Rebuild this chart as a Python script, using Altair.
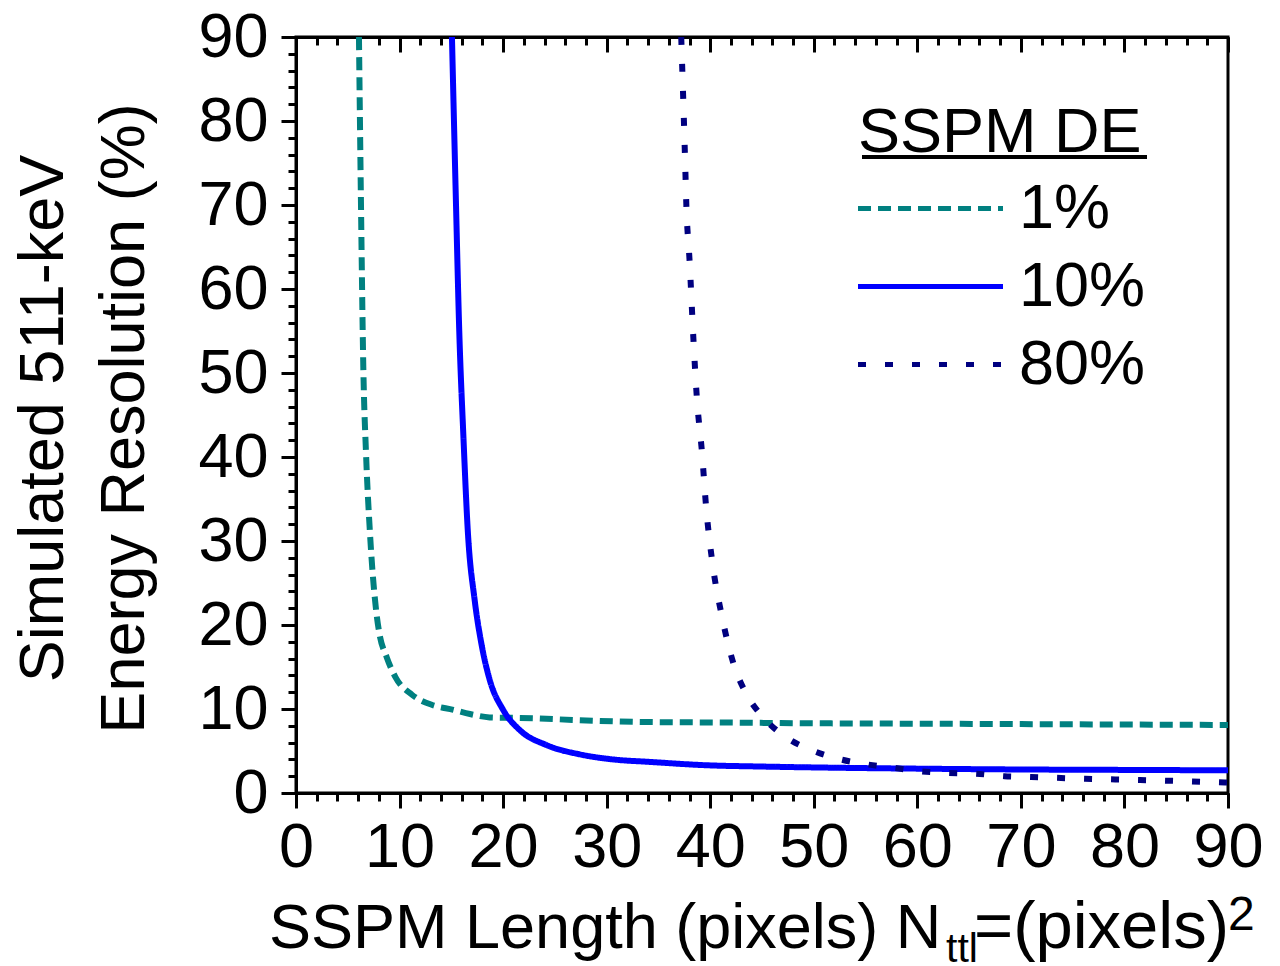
import altair as alt
import pandas as pd

FONT = "Liberation Sans"

series_names = ["1%", "10%", "80%"]
series_colors = ["#008080", "#0000FF", "#000080"]
series_dashes = [[13, 7], [1, 0], [8, 19]]

x_de1 = [6.08, 6.27, 6.5, 6.76, 7.14, 7.75, 8.05, 8.75, 9.6, 11.2, 13.1, 15.2, 16.8, 18.7, 22.9, 26.7, 34, 40, 50, 60, 70, 80, 90]
y_de1 = [90, 70.6, 50.7, 40.5, 31, 21.6, 19.0, 16.2, 13.8, 11.7, 10.5, 9.9, 9.4, 9.0, 8.9, 8.7, 8.45, 8.4, 8.3, 8.25, 8.2, 8.15, 8.1]

x_de10 = [15.06, 15.44, 15.77, 16.15, 16.6, 17.25, 17.9, 18.7, 20, 21.6, 24.2, 27.4, 30.6, 34.2, 39.7, 45, 52.6, 60, 70, 80, 90]
y_de10 = [90, 70.6, 54.8, 42.9, 31, 23, 17.8, 13.5, 9.9, 7.5, 5.7, 4.6, 4.0, 3.7, 3.3, 3.15, 3.0, 2.9, 2.8, 2.75, 2.7]

x_de80 = [37.2, 37.55, 37.7, 38.0, 38.4, 38.7, 39.2, 39.6, 40.2, 41.1, 42.3, 43.4, 45.2, 47.5, 50.0, 52.6, 55.2, 57.7, 60.2, 62.8, 65.6, 68.4, 71.0, 76.2, 81.5, 90]
y_de80 = [90, 76.3, 69.8, 63.5, 53.5, 47.2, 40.6, 34.1, 27.5, 21.2, 15.2, 12.0, 8.9, 6.5, 5.0, 4.0, 3.4, 3.0, 2.6, 2.4, 2.3, 2.0, 1.9, 1.7, 1.55, 1.25]

major_ticks = list(range(0, 91, 10))
minor_ticks = list(range(0, 91, 2))

y_title = ["Simulated 511-keV", "Energy Resolution (%)"]
legend_title = "SSPM DE"
x_title_parts = ["SSPM Length (pixels) N", "ttl", "=(pixels)", "2"]

rows = []
for name, xs_, ys_ in [("1%", x_de1, y_de1), ("10%", x_de10, y_de10), ("80%", x_de80, y_de80)]:
    for i, (a, b) in enumerate(zip(xs_, ys_)):
        rows.append({"x": a, "y": b, "series": name, "order": i})
df = pd.DataFrame(rows)
one = pd.DataFrame({"k": [0]})

W, H = 932, 756
xs = alt.Scale(domain=[0, 90], nice=False, zero=False)
ys = alt.Scale(domain=[0, 90], nice=False, zero=False)

tick_common = dict(tickColor="black", tickWidth=3, grid=False)

lines = alt.Chart(df).mark_line(strokeWidth=6, clip=True, interpolate="monotone").encode(
    x=alt.X("x:Q", scale=xs, title=None, axis=alt.Axis(
        orient="bottom", values=major_ticks, tickSize=15, labelFontSize=63, labelFont=FONT,
        labelColor="black", labelPadding=8, labelFlush=False, labelOverlap=False,
        domain=True, domainColor="black", domainWidth=3, **tick_common)),
    y=alt.Y("y:Q", scale=ys, axis=alt.Axis(
        orient="left", values=major_ticks, tickSize=15, labelFontSize=63, labelFont=FONT,
        labelColor="black", labelPadding=13, labelFlush=False, labelOverlap=False,
        domain=True, domainColor="black", domainWidth=3,
        title=y_title, titleFont=FONT, titleFontSize=63, titleFontWeight="normal",
        titleColor="black", titleLineHeight=81, titleAngle=270, titleAlign="center",
        titleBaseline="alphabetic", titleX=-234, titleY=381, titleLimit=2000, **tick_common)),
    color=alt.Color("series:N", scale=alt.Scale(domain=series_names, range=series_colors),
                    sort=series_names, title=legend_title,
                    legend=alt.Legend(
                        orient="none", legendX=562, legendY=65, padding=0,
                        titleFont=FONT, titleFontSize=63, titleFontWeight="normal", titleColor="black",
                        titlePadding=12, titleAnchor="start", titleLimit=2000,
                        labelFont=FONT, labelFontSize=63, labelColor="black", labelLimit=2000,
                        labelOffset=98, rowPadding=14,
                        symbolType="M-1.575,0H5.675", symbolSize=1600, symbolStrokeWidth=5,
                        symbolOffset=0)),
    strokeDash=alt.StrokeDash("series:N", scale=alt.Scale(domain=series_names, range=series_dashes),
                              sort=series_names, title=legend_title),
    order="order:Q",
)

minor = alt.Chart(df).mark_line(strokeOpacity=0).encode(
    x=alt.X("x:Q", scale=xs, title=None, axis=alt.Axis(
        orient="bottom", values=minor_ticks, tickSize=8, labels=False, domain=False, **tick_common)),
    y=alt.Y("y:Q", scale=ys, title=None, axis=alt.Axis(
        orient="left", values=minor_ticks, tickSize=8, labels=False, domain=False, **tick_common)),
    detail="series:N",
)

top_major = alt.Chart(df).mark_line(strokeOpacity=0).encode(
    x=alt.X("x:Q", scale=xs, title=None, axis=alt.Axis(
        orient="bottom", offset=-H, values=major_ticks, tickSize=15, labels=False,
        domain=True, domainColor="black", domainWidth=3, **tick_common)),
    y=alt.Y("y:Q", scale=ys, axis=None),
    detail="series:N",
)

top_minor = alt.Chart(df).mark_line(strokeOpacity=0).encode(
    x=alt.X("x:Q", scale=xs, title=None, axis=alt.Axis(
        orient="bottom", offset=-H, values=minor_ticks, tickSize=8, labels=False,
        domain=False, **tick_common)),
    y=alt.Y("y:Q", scale=ys, axis=None),
    detail="series:N",
)

underline = alt.Chart(one).mark_rule(color="black", strokeWidth=4).encode(
    x=alt.value(566), x2=alt.value(851), y=alt.value(120)
)

t1 = alt.Chart(one).mark_text(text=x_title_parts[0], font=FONT, fontSize=63, align="left",
                              baseline="alphabetic", color="black").encode(
    x=alt.value(-27), y=alt.value(911))
t2 = alt.Chart(one).mark_text(text=x_title_parts[1], font=FONT, fontSize=41, align="left",
                              baseline="alphabetic", color="black").encode(
    x=alt.value(650), y=alt.value(925))
t3 = alt.Chart(one).mark_text(text=x_title_parts[2], font=FONT, fontSize=67, align="left",
                              baseline="alphabetic", color="black").encode(
    x=alt.value(678), y=alt.value(911))
t4 = alt.Chart(one).mark_text(text=x_title_parts[3], font=FONT, fontSize=48, align="left",
                              baseline="alphabetic", color="black").encode(
    x=alt.value(932), y=alt.value(893))

chart = alt.layer(lines, minor, top_major, top_minor, underline, t1, t2, t3, t4).resolve_axis(
    x="independent", y="independent"
).properties(
    width=W, height=H,
    autosize=alt.AutoSizeParams(type="none"),
    padding={"left": 288, "top": 29, "right": 44, "bottom": 175},
    background="white",
).configure_view(stroke="black", strokeWidth=3)

chart.save("out.html", embed_options={"renderer": "svg", "actions": False})
